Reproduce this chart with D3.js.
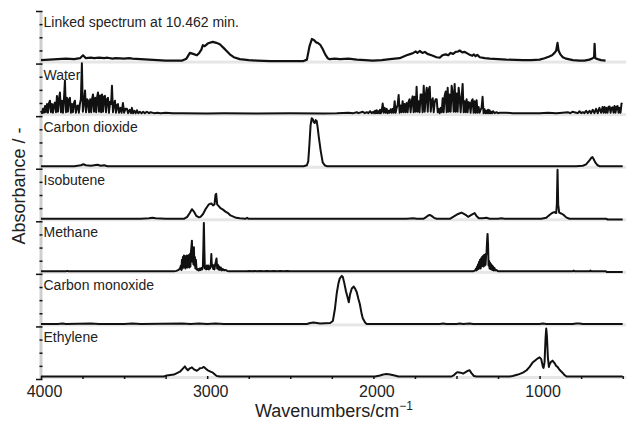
<!DOCTYPE html>
<html>
<head>
<meta charset="utf-8">
<title>Linked spectrum vs reference gases</title>
<script src="https://d3js.org/d3.v7.min.js"></script>
<style>
  body { margin: 0; background: #fff; }
  svg { font-family: "Liberation Sans", Arial, Helvetica, sans-serif; }
  .trace { fill: none; stroke: #111; stroke-width: 2; stroke-linejoin: round; }
  .band { fill: #e6e6e6; }
  .yband { fill: #cfcfcf; }
  .panelLabel { font-size: 14px; fill: #222; }
  #xAxis text { font-size: 16px; fill: #222; }
  #xAxis .domain, #yAxis .domain { stroke: none; }
  #xAxis .tick line, #yAxis .tick line { stroke: #111; stroke-width: 1.5; }
  .axisTitle { font-size: 18px; fill: #222; }
</style>
</head>
<body>
<svg id="chart" width="630" height="427"></svg>
<script>
// data: [wavenumber (cm-1), relative absorbance]
var panelNames = ["Linked spectrum at 10.462 min.", "Water", "Carbon dioxide", "Isobutene",
  "Methane", "Carbon monoxide", "Ethylene"];

var xTickValues = [4000, 3750, 3500, 3250, 3000, 2750, 2500, 2250, 2000, 1750, 1500, 1250, 1000, 750, 500];
var xLabelValues = [4000, 3000, 2000, 1000];

var linked = [[4000,0.02],[3950,0.03],[3900,0.04],[3850,0.05],[3800,0.04],[3765,0.06],[3747,0.12],[3730,0.06],
  [3700,0.07],[3680,0.06],[3650,0.07],[3620,0.06],[3600,0.07],[3570,0.05],[3550,0.06],[3500,0.05],[3470,0.06],
  [3450,0.05],[3400,0.04],[3350,0.03],[3300,0.02],[3250,0.01],[3200,0.01],[3150,0.01],[3125,0.05],[3104,0.17],
  [3085,0.15],[3062,0.12],[3048,0.17],[3035,0.24],[3026,0.33],[3015,0.31],[2995,0.37],[2966,0.40],[2945,0.38],
  [2924,0.35],[2900,0.27],[2880,0.2],[2864,0.14],[2840,0.08],[2804,0.04],[2750,0.02],[2700,0.01],[2620,0],
  [2420,0],[2400,0.03],[2385,0.3],[2370,0.46],[2358,0.44],[2345,0.39],[2335,0.38],[2320,0.34],[2305,0.25],
  [2290,0.14],[2275,0.06],[2263,0.04],[2232,0.05],[2200,0.04],[2150,0.05],[2100,0.03],[2050,0.02],[2004,0.01],
  [1950,0.02],[1900,0.04],[1842,0.06],[1800,0.12],[1775,0.15],[1760,0.17],[1745,0.2],[1735,0.17],[1721,0.21],
  [1705,0.17],[1690,0.19],[1675,0.15],[1650,0.12],[1620,0.08],[1601,0.07],[1585,0.12],[1565,0.14],[1550,0.12],
  [1535,0.17],[1520,0.15],[1505,0.19],[1490,0.2],[1481,0.22],[1465,0.18],[1450,0.19],[1435,0.16],[1420,0.13],
  [1405,0.11],[1395,0.14],[1385,0.1],[1375,0.13],[1360,0.08],[1330,0.06],[1300,0.05],[1250,0.04],[1200,0.03],
  [1100,0.02],[1050,0.02],[1000,0.03],[970,0.06],[945,0.09],[925,0.12],[910,0.17],[900,0.22],[892,0.38],
  [886,0.22],[875,0.14],[860,0.08],[840,0.05],[800,0.02],[760,0.01],[730,0.01],[700,0.03],[680,0.06],[672,0.08],
  [669,0.36],[665,0.06],[650,0.04],[630,0.02],[603,0.01]];

var water = [[4000,0.06],[3994,0.01],[3988,0.1],[3982,0.02],[3976,0.16],[3970,0.03],[3964,0.2],[3958,0.02],
  [3952,0.22],[3946,0.27],[3940,0.03],[3934,0.2],[3928,0.02],[3922,0.18],[3916,0.23],[3910,0.03],[3904,0.37],
  [3898,0.04],[3892,0.3],[3886,0.44],[3880,0.03],[3874,0.27],[3868,0.02],[3862,0.3],[3856,0.69],[3850,0.03],
  [3844,0.33],[3838,0.04],[3832,0.3],[3826,0.33],[3820,0.02],[3814,0.2],[3808,0.03],[3802,0.22],[3796,0.27],
  [3790,0.02],[3784,0.15],[3778,0.17],[3772,0.02],[3766,0.2],[3760,0.3],[3754,1.05],[3748,0.04],[3742,0.2],
  [3735,0.48],[3729,0.03],[3722,0.3],[3717,0.27],[3711,0.03],[3704,0.3],[3698,0.03],[3692,0.32],[3687,0.4],
  [3681,0.04],[3674,0.33],[3668,0.03],[3662,0.35],[3657,0.44],[3651,0.04],[3644,0.38],[3638,0.03],[3633,0.4],
  [3627,0.04],[3620,0.36],[3615,0.37],[3609,0.03],[3603,0.3],[3597,0.33],[3591,0.02],[3584,0.25],[3578,0.2],
  [3573,0.58],[3567,0.03],[3561,0.2],[3555,0.27],[3549,0.02],[3542,0.18],[3537,0.2],[3531,0.02],[3522,0.12],
  [3515,0.02],[3507,0.22],[3500,0.02],[3492,0.1],[3483,0.1],[3476,0.01],[3466,0.08],[3458,0.01],[3453,0.12],
  [3446,0.01],[3438,0.06],[3430,0.01],[3423,0.07],[3415,0.01],[3405,0.04],[3395,0.01],[3385,0.04],[3375,0.01],
  [3363,0.04],[3350,0.01],[3340,0.03],[3320,0.01],[3300,0.02],[3280,0.01],[3250,0.02],[3206,0.01],[3150,0.01],
  [3000,0.005],[2900,0.01],[2700,0.005],[2500,0.01],[2300,0.005],[2220,0.01],[2150,0.02],[2120,0.01],
  [2100,0.03],[2090,0.01],[2064,0.04],[2052,0.01],[2040,0.03],[2030,0.01],[2020,0.05],[2010,0.01],[2000,0.04],
  [1995,0.01],[1990,0.06],[1985,0.01],[1980,0.07],[1975,0.01],[1970,0.05],[1965,0.01],[1960,0.08],[1955,0.01],
  [1950,0.05],[1944,0.21],[1938,0.02],[1932,0.12],[1926,0.02],[1920,0.1],[1914,0.01],[1908,0.06],[1902,0.02],
  [1896,0.09],[1890,0.02],[1884,0.1],[1878,0.02],[1872,0.26],[1866,0.02],[1860,0.12],[1854,0.18],[1848,0.39],
  [1842,0.02],[1836,0.17],[1830,0.03],[1824,0.26],[1818,0.03],[1812,0.2],[1806,0.03],[1800,0.22],[1794,0.03],
  [1788,0.25],[1782,0.3],[1776,0.03],[1770,0.26],[1764,0.36],[1758,0.03],[1752,0.35],[1746,0.04],[1740,0.56],
  [1734,0.04],[1728,0.26],[1722,0.03],[1716,0.4],[1710,0.4],[1704,0.03],[1697,0.58],[1691,0.04],[1685,0.37],
  [1679,0.54],[1673,0.04],[1667,0.5],[1661,0.56],[1655,0.04],[1649,0.26],[1643,0.32],[1637,0.03],[1631,0.24],
  [1625,0.3],[1619,0.3],[1613,0.03],[1607,0.1],[1601,0.01],[1595,0.12],[1589,0.03],[1583,0.32],[1577,0.03],
  [1571,0.38],[1565,0.46],[1559,0.03],[1553,0.54],[1547,0.04],[1541,0.4],[1535,0.04],[1529,0.58],[1523,0.42],
  [1517,0.04],[1511,0.62],[1505,0.04],[1499,0.42],[1493,0.04],[1487,0.54],[1481,0.35],[1475,0.03],[1469,0.33],
  [1463,0.62],[1457,0.03],[1451,0.26],[1445,0.03],[1439,0.3],[1433,0.03],[1427,0.24],[1421,0.22],[1415,0.02],
  [1409,0.26],[1403,0.3],[1397,0.02],[1391,0.26],[1385,0.02],[1379,0.28],[1373,0.02],[1367,0.14],[1361,0.02],
  [1355,0.08],[1349,0.12],[1343,0.35],[1337,0.01],[1331,0.09],[1325,0.01],[1320,0.06],[1315,0.01],[1310,0.08],
  [1305,0.01],[1301,0.07],[1295,0.01],[1290,0.04],[1285,0.01],[1280,0.05],[1270,0.01],[1259,0.03],[1250,0.01],
  [1240,0.02],[1200,0.02],[1162,0.01],[1100,0.01],[1000,0.01],[950,0.02],[900,0.01],[862,0.02],[830,0.03],
  [815,0.01],[802,0.04],[780,0.02],[770,0.01],[760,0.05],[750,0.01],[740,0.03],[730,0.01],[720,0.06],[710,0.01],
  [699,0.06],[690,0.01],[680,0.08],[670,0.01],[660,0.1],[650,0.01],[640,0.12],[630,0.02],[621,0.14],[615,0.02],
  [609,0.14],[603,0.02],[597,0.12],[591,0.02],[585,0.14],[579,0.15],[573,0.02],[567,0.12],[561,0.13],[555,0.02],
  [549,0.16],[543,0.02],[537,0.14],[531,0.16],[525,0.02],[519,0.12],[513,0.02],[507,0.21],[501,0.2]];

var carbonDioxide = [[4000,0],[3800,0],[3760,0.02],[3745,0.04],[3730,0.02],[3700,0.01],[3660,0.03],[3640,0.01],
  [3620,0.02],[3600,0],[2420,0],[2400,0.02],[2392,0.1],[2385,0.45],[2378,0.85],[2371,1.0],[2365,0.98],
  [2359,0.92],[2353,0.9],[2347,0.96],[2341,0.94],[2335,0.8],[2329,0.62],[2317,0.32],[2305,0.08],[2293,0.02],
  [2281,0],[780,0],[740,0.01],[720,0.04],[700,0.12],[688,0.18],[682,0.19],[675,0.15],[665,0.08],[651,0.02],
  [640,0],[500,0]];

var isobutene = [[4000,0],[3400,0],[3350,0.01],[3330,0.02],[3310,0.01],[3250,0],[3140,0],[3120,0.04],[3105,0.12],
  [3092,0.2],[3080,0.15],[3065,0.06],[3050,0.03],[3040,0.04],[3025,0.1],[3010,0.2],[3000,0.25],[2990,0.3],
  [2975,0.32],[2965,0.28],[2956,0.3],[2950,0.5],[2946,0.52],[2940,0.3],[2932,0.27],[2920,0.22],[2905,0.19],
  [2890,0.15],[2875,0.12],[2860,0.07],[2846,0.05],[2825,0.02],[2804,0.01],[2770,0],[2760,0.02],[2750,0],
  [1800,0],[1760,0.01],[1740,0],[1700,0],[1685,0.03],[1670,0.07],[1661,0.08],[1650,0.06],[1635,0.02],[1619,0],
  [1540,0],[1515,0.05],[1490,0.1],[1470,0.13],[1455,0.1],[1440,0.07],[1430,0.04],[1420,0.06],[1400,0.1],
  [1391,0.12],[1380,0.06],[1365,0.01],[1343,0.01],[1320,0.02],[1300,0],[1250,0],[1230,0.01],[1210,0],[990,0],
  [960,0.02],[940,0.08],[925,0.12],[912,0.14],[900,0.12],[896,0.3],[892,1.02],[888,0.3],[882,0.13],[870,0.11],
  [855,0.08],[840,0.03],[820,0],[600,0],[590,-0.015],[500,-0.015]];

var methane = [[4000,0],[3850,0],[3842,0.01],[3834,0],[3200,0],[3185,0.01],[3172,0.03],[3164,0.06],[3158,0.12],
  [3155,0.03],[3152,0.24],[3149,0.06],[3146,0.3],[3143,0.08],[3140,0.33],[3137,0.1],[3134,0.32],[3131,0.06],
  [3128,0.3],[3125,0.1],[3122,0.33],[3119,0.08],[3116,0.32],[3113,0.1],[3110,0.34],[3107,0.08],[3104,0.36],
  [3101,0.1],[3098,0.4],[3095,0.5],[3092,0.64],[3089,0.2],[3086,0.46],[3083,0.15],[3080,0.5],[3077,0.12],
  [3074,0.3],[3071,0.06],[3068,0.24],[3064,0.05],[3060,0.03],[3055,0.05],[3050,0.02],[3045,0.06],[3040,0.03],
  [3035,0.07],[3030,0.04],[3026,0.1],[3023,0.5],[3020,1.01],[3017,0.45],[3014,0.06],[3010,0.1],[3006,0.04],
  [3002,0.12],[2998,0.05],[2994,0.12],[2990,0.04],[2986,0.1],[2982,0.06],[2978,0.16],[2975,0.36],[2972,0.1],
  [2968,0.14],[2964,0.05],[2960,0.12],[2956,0.04],[2952,0.14],[2948,0.2],[2944,0.27],[2940,0.06],[2936,0.14],
  [2932,0.04],[2928,0.1],[2924,0.03],[2918,0.08],[2912,0.02],[2906,0.05],[2898,0.02],[2890,0.03],[2880,0.01],
  [2870,0],[2760,0],[2745,0.008],[2730,0],[2715,0.008],[2700,0],[2680,0.008],[2660,0],[2640,0.008],[2620,0],
  [2600,0.008],[2580,0],[2560,0.008],[2540,0],[2520,0.008],[2500,0],[1400,0],[1388,0.02],[1382,0.06],
  [1379,0.02],[1376,0.1],[1373,0.04],[1370,0.15],[1367,0.05],[1364,0.2],[1361,0.08],[1358,0.24],[1355,0.06],
  [1352,0.27],[1349,0.1],[1346,0.3],[1343,0.12],[1340,0.32],[1337,0.1],[1334,0.34],[1331,0.12],[1328,0.35],
  [1325,0.14],[1322,0.33],[1319,0.4],[1316,0.62],[1313,0.78],[1310,0.55],[1307,0.12],[1304,0.22],[1301,0.06],
  [1298,0.18],[1295,0.05],[1292,0.15],[1289,0.04],[1286,0.12],[1283,0.03],[1280,0.1],[1276,0.02],[1272,0.07],
  [1266,0.02],[1260,0.03],[1250,0],[800,0],[795,0.015],[788,0],[700,0],[694,0.015],[688,0],[600,0],
  [596,-0.015],[500,-0.015]];

var carbonMonoxide = [[4000,0],[3900,0],[3870,0.01],[3850,0],[3700,0.01],[3650,0],[3500,0],[3450,0.01],
  [3400,0],[3150,0.01],[3100,0],[3050,0.01],[3000,0],[2950,0.01],[2900,0],[2400,0],[2380,0.02],[2360,0.03],
  [2340,0.02],[2320,0.01],[2260,0.02],[2244,0.06],[2232,0.3],[2220,0.65],[2210,0.85],[2202,0.95],[2190,1.0],
  [2184,0.98],[2175,0.85],[2165,0.68],[2155,0.55],[2148,0.45],[2140,0.62],[2130,0.74],[2118,0.78],[2108,0.72],
  [2100,0.66],[2090,0.52],[2082,0.42],[2070,0.2],[2064,0.12],[2050,0.03],[2040,0],[1600,0],[1580,0.01],
  [1560,0],[1500,0],[1480,0.01],[1460,0],[1420,0.01],[1400,0],[1000,0],[980,0.01],[960,0],[800,0],[780,0.01],
  [760,0.01],[740,0],[500,0]];

var ethylene = [[4000,0],[3260,0],[3243,0.02],[3200,0.04],[3164,0.1],[3145,0.17],[3134,0.21],[3125,0.16],
  [3116,0.13],[3104,0.17],[3092,0.19],[3080,0.15],[3062,0.12],[3050,0.15],[3044,0.17],[3030,0.18],[3020,0.2],
  [3008,0.16],[2996,0.13],[2980,0.1],[2966,0.08],[2950,0.03],[2942,0.01],[2924,0],[1990,0],[1960,0.02],
  [1940,0.04],[1920,0.05],[1900,0.04],[1872,0.02],[1850,0],[1530,0],[1515,0.03],[1500,0.08],[1493,0.09],
  [1475,0.08],[1460,0.06],[1445,0.09],[1430,0.12],[1421,0.13],[1410,0.07],[1395,0.01],[1380,0],[1180,0],
  [1162,0.01],[1130,0.04],[1100,0.08],[1078,0.13],[1060,0.2],[1042,0.29],[1025,0.34],[1010,0.38],[1000,0.4],
  [990,0.36],[980,0.2],[976,0.18],[970,0.3],[964,0.8],[960,1.0],[956,0.85],[950,0.4],[944,0.2],[940,0.25],
  [932,0.3],[922,0.33],[910,0.28],[900,0.22],[892,0.2],[880,0.14],[862,0.08],[850,0.03],[838,0],[500,0]];

var spectra = [linked, water, carbonDioxide, isobutene, methane, carbonMonoxide, ethylene];

// layout
var plotLeft = 41, plotRight = 626, plotTop = 11, plotBottom = 379;
var nPanels = panelNames.length;
var panelH = (plotBottom - plotTop) / nPanels;

var svg = d3.select("#chart");

var x = d3.scaleLinear().domain([4000, 480]).range([plotLeft, plotRight]);

// light grey bands under each panel
panelNames.forEach(function(name, i) {
  var bottom = plotTop + (i + 1) * panelH;
  svg.append("rect").attr("class", "band")
    .attr("x", plotLeft).attr("y", bottom - 3)
    .attr("width", plotRight - plotLeft).attr("height", 3);
});
svg.append("rect").attr("class", "yband")
  .attr("x", 39.5).attr("y", plotTop).attr("width", 3).attr("height", plotBottom - plotTop);

// left ticks: 4 per panel
var yTick = d3.scaleLinear().domain([0, nPanels * 4]).range([plotBottom, plotTop]);
var yAxis = d3.axisLeft(yTick).tickValues(d3.range(0, nPanels * 4 + 1)).tickFormat("").tickSize(3);
var yG = svg.append("g").attr("id", "yAxis").attr("transform", "translate(42.5,0)").call(yAxis);
yG.selectAll(".tick line").attr("x2", function(d) { return d % 4 === 0 ? -6.5 : -3; });

// spectra
spectra.forEach(function(data, i) {
  var top = plotTop + i * panelH, bottom = top + panelH;
  var y = d3.scaleLinear().domain([0, 1]).range([bottom - 2.5, bottom - 50.5]);
  var line = d3.line()
    .x(function(d) { return x(d[0]); })
    .y(function(d) { return y(d[1]); });
  svg.append("path").attr("class", "trace")
    .attr("d", line(data))
    .style("stroke-width", i === 0 ? 2.2 : 2);
  svg.append("text").attr("class", "panelLabel")
    .attr("x", 43.5).attr("y", top + 16)
    .text(panelNames[i]);
});

// x axis
var xAxis = d3.axisBottom(x).tickValues(xTickValues)
  .tickSizeInner(-3).tickSizeOuter(0).tickPadding(7)
  .tickFormat(function(d) { return xLabelValues.indexOf(d) >= 0 ? d : ""; });
var xG = svg.append("g").attr("id", "xAxis").attr("transform", "translate(0," + plotBottom + ")").call(xAxis);
xG.selectAll(".tick text").attr("dx", 3);

var xTitle = svg.append("text").attr("class", "axisTitle")
  .attr("x", 334).attr("y", 417).attr("text-anchor", "middle");
xTitle.append("tspan").text("Wavenumbers/cm");
xTitle.append("tspan").attr("dy", -7).style("font-size", "12px").text("\u22121");

svg.append("text").attr("class", "axisTitle")
  .attr("transform", "translate(25,186) rotate(-90)")
  .attr("text-anchor", "middle")
  .text("Absorbance / -");
</script>
</body>
</html>
